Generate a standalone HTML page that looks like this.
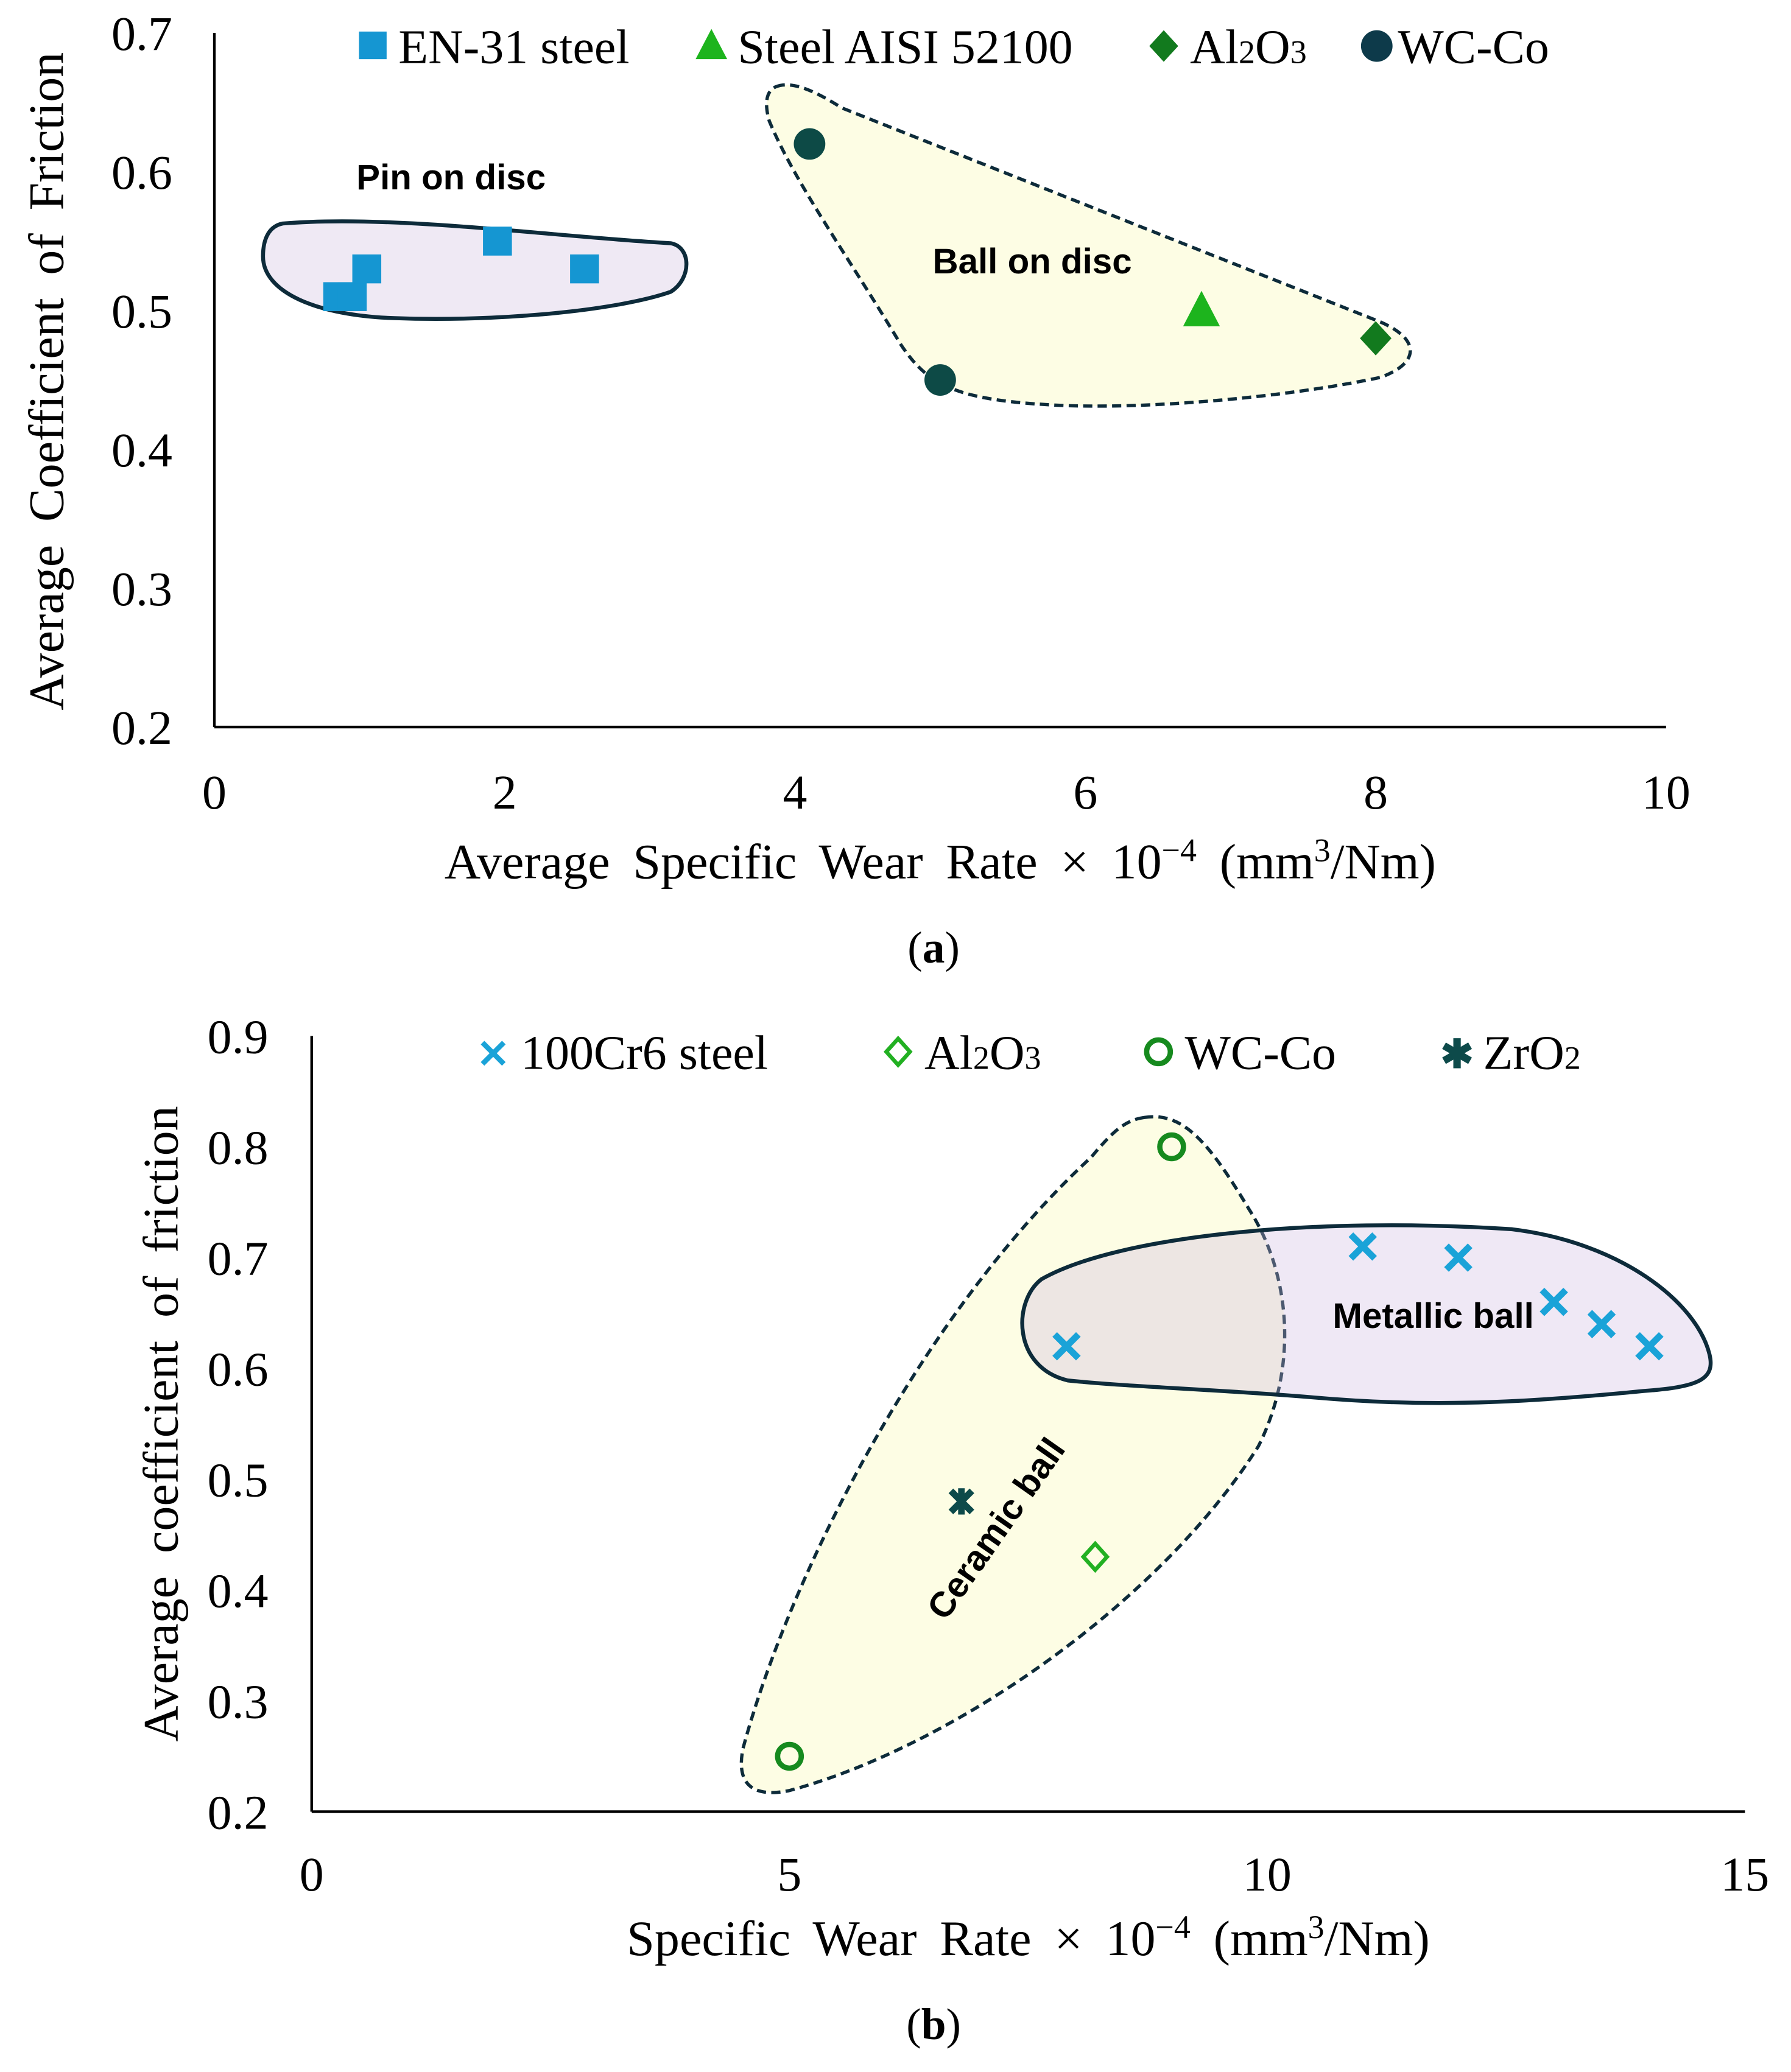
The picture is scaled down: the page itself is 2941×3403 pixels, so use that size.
<!DOCTYPE html>
<html><head><meta charset="utf-8"><style>
html,body{margin:0;padding:0;background:#fff;}
svg{display:block;}
text{font-family:"Liberation Serif",serif;}
.lbl{font-family:"Liberation Sans",sans-serif;font-weight:bold;}
</style></head><body>
<svg id="fig" width="2941" height="3403" viewBox="0 0 1362 1576" xmlns="http://www.w3.org/2000/svg">
<g id="chartA">
 <path d="M 215,170 C 300,163 420,180 510,185 C 526,188 526,212 510,222 C 470,236 380,245 300,242 C 240,240 200,222 200,195 C 200,181 205,172 215,170 Z" fill="#efe9f4" stroke="#0d2b3a" stroke-width="3"/>
 <path d="M 590,66 C 600,62 615,66 640,82 L 1050,245 C 1080,258 1080,276 1050,287 C 980,302 870,312 800,308 C 725,304 705,292 685,262 C 645,195 605,140 585,92 C 581,78 583,69 590,66 Z" fill="#fdfde4" stroke="#0d2b3a" stroke-width="2.5" stroke-dasharray="7,4"/>
 <text class="lbl" x="343" y="144" font-size="27" text-anchor="middle">Pin on disc</text>
 <text class="lbl" x="785" y="208" font-size="27" text-anchor="middle">Ball on disc</text>
 <g id="axesA"></g><g id="marksA"></g>
 <g font-size="37">
  <rect x="273" y="24" width="21" height="21" fill="#1596d2"/>
  <text x="303" y="48">EN-31 steel</text>
  <polygon points="541,22 553,45 529,45" fill="#1db41d"/>
  <text x="561" y="48">Steel AISI 52100</text>
  <polygon points="885,23 896,35 885,47 874,35" fill="#127a1e"/>
  <text x="905" y="48">Al<tspan font-size="25">2</tspan>O<tspan font-size="25">3</tspan></text>
  <circle cx="1047" cy="35" r="12" fill="#0d3a4a"/>
  <text x="1063" y="48">WC-Co</text>
 </g>
 <text x="715" y="668" font-size="38" text-anchor="middle" word-spacing="8">Average Specific Wear Rate × 10<tspan font-size="25" dy="-13">−4</tspan><tspan dy="13"> (mm</tspan><tspan font-size="25" dy="-13">3</tspan><tspan dy="13">/Nm)</tspan></text>
 <text transform="translate(48,290) rotate(-90)" font-size="38" text-anchor="middle" word-spacing="8">Average Coefficient of Friction</text>
 <text x="710" y="732" font-size="34" text-anchor="middle">(<tspan font-weight="bold">a</tspan>)</text>
</g>
<g id="chartB">
 <path d="M 870,850 C 900,845 920,870 950,920 C 982,970 987,1040 957,1100 C 880,1222 720,1330 600,1362 C 570,1368 560,1355 565,1330 C 600,1200 700,1000 830,880 C 845,862 855,852 870,850 Z" fill="#fdfde4" stroke="#0d2b3a" stroke-width="2.5" stroke-dasharray="7,4"/>
 <path d="M 792,973 C 850,940 1000,925 1150,935 C 1232,945 1290,990 1300,1030 C 1305,1050 1290,1055 1250,1058 C 1150,1068 1080,1070 1000,1063 C 930,1057 860,1055 812,1050 C 770,1040 770,990 792,973 Z" fill="rgb(205,185,225)" fill-opacity="0.33" stroke="#0d2b3a" stroke-width="3"/>
 <text class="lbl" x="1090" y="1010" font-size="27" text-anchor="middle">Metallic ball</text>
 <text class="lbl" transform="translate(765,1168) rotate(-55)" font-size="27" text-anchor="middle">Ceramic ball</text>
 <g id="axesB"></g><g id="marksB"></g>
 <g font-size="37">
  <text x="375" y="812" font-size="30" fill="#1aa3d8" font-family="Liberation Sans" font-weight="bold" text-anchor="middle">✕</text>
  <text x="396" y="813">100Cr6 steel</text>
  <polygon points="683,790 692,800 683,810 674,800" fill="none" stroke="#22b022" stroke-width="3"/>
  <text x="703" y="813">Al<tspan font-size="25">2</tspan>O<tspan font-size="25">3</tspan></text>
  <circle cx="881" cy="800" r="9" fill="none" stroke="#168a1e" stroke-width="4"/>
  <text x="901" y="813">WC-Co</text>
  <text x="1108" y="812" font-size="30" fill="#0d4a4a" font-family="DejaVu Sans" font-weight="bold" text-anchor="middle">✱</text>
  <text x="1128" y="813">ZrO<tspan font-size="25">2</tspan></text>
 </g>
 <text x="782" y="1487" font-size="38" text-anchor="middle" word-spacing="8">Specific Wear Rate × 10<tspan font-size="25" dy="-13">−4</tspan><tspan dy="13"> (mm</tspan><tspan font-size="25" dy="-13">3</tspan><tspan dy="13">/Nm)</tspan></text>
 <text transform="translate(135,1083) rotate(-90)" font-size="38" text-anchor="middle" word-spacing="8">Average coefficient of friction</text>
 <text x="710" y="1551" font-size="34" text-anchor="middle">(<tspan font-weight="bold">b</tspan>)</text>
</g>
</svg>
<script>
// Chart A data
const aXTicks = [0, 2, 4, 6, 8, 10];
const aYTicks = [0.2, 0.3, 0.4, 0.5, 0.6, 0.7];
const aEn31X = [0.85, 0.95, 1.05, 1.95, 2.55];
const aEn31Y = [0.51, 0.51, 0.53, 0.55, 0.53];
const aAisiX = [6.8];
const aAisiY = [0.50];
const aAl2o3X = [8.0];
const aAl2o3Y = [0.48];
const aWccoX = [4.1, 5.0];
const aWccoY = [0.62, 0.45];
// Chart B data
const bXTicks = [0, 5, 10, 15];
const bYTicks = [0.2, 0.3, 0.4, 0.5, 0.6, 0.7, 0.8, 0.9];
const bCrX = [7.9, 11.0, 12.0, 13.0, 13.5, 14.0];
const bCrY = [0.62, 0.71, 0.70, 0.66, 0.64, 0.62];
const bAl2o3X = [8.2];
const bAl2o3Y = [0.43];
const bWccoX = [9.0, 5.0];
const bWccoY = [0.80, 0.25];
const bZrX = [6.8];
const bZrY = [0.48];

const NS = "http://www.w3.org/2000/svg";
function mk(tag, attrs, parent){const e=document.createElementNS(NS,tag);for(const k in attrs)e.setAttribute(k,attrs[k]);parent.appendChild(e);return e;}

const ax = v => 163 + (v-0)/(10-0)*(1267-163);
const ay = v => 553 - (v-0.2)/(0.7-0.2)*(553-25);
const bx = v => 237 + (v-0)/(15-0)*(1327-237);
const by = v => 1378 - (v-0.2)/(0.9-0.2)*(1378-788);

function axes(gid, xs, ys, xf, yf, x0, x1, y0, y1, xlabY, ylabX, dec){
  const g=document.getElementById(gid);
  const yl=mk('line',{x1:xf(x0),y1:yf(y0),x2:xf(x0),y2:yf(y1),stroke:'#000','stroke-width':2},g);
  
  
  const xl=mk('line',{x1:xf(x0),y1:yf(y0),x2:xf(x1),y2:yf(y0),stroke:'#000','stroke-width':2},g);
  
  
  xs.forEach(v=>{const t=mk('text',{x:xf(v),y:xlabY,'font-size':37,'text-anchor':'middle'},g);t.textContent=String(v);
    
    });
  ys.forEach(v=>{const t=mk('text',{x:ylabX,y:yf(v)+13,'font-size':37,'text-anchor':'end'},g);t.textContent=v.toFixed(dec);
    
    });
}
axes('axesA',aXTicks,aYTicks,ax,ay,0,10,0.2,0.7,615,131,1);
axes('axesB',bXTicks,bYTicks,bx,by,0,15,0.2,0.9,1438,204,1);

const gA=document.getElementById('marksA');
aEn31X.forEach((x,i)=>{const e=mk('rect',{x:ax(x)-11,y:ay(aEn31Y[i])-11,width:22,height:22,fill:'#1596d2'},gA);
  
  });
aAisiX.forEach((x,i)=>{const cx=ax(x),cy=ay(aAisiY[i]);const e=mk('polygon',{points:`${cx},${cy-15} ${cx+14},${cy+12} ${cx-14},${cy+12}`,fill:'#1db41d'},gA);
  
  });
aAl2o3X.forEach((x,i)=>{const cx=ax(x),cy=ay(aAl2o3Y[i]);const e=mk('polygon',{points:`${cx},${cy-13} ${cx+12},${cy} ${cx},${cy+13} ${cx-12},${cy}`,fill:'#127a1e'},gA);
  
  });
aWccoX.forEach((x,i)=>{const e=mk('circle',{cx:ax(x),cy:ay(aWccoY[i]),r:12,fill:'#0d4a46'},gA);
  
  });

const gB=document.getElementById('marksB');
bCrX.forEach((x,i)=>{const cx=bx(x),cy=by(bCrY[i]);const e=mk('path',{d:`M${cx-9},${cy-9}L${cx+9},${cy+9}M${cx+9},${cy-9}L${cx-9},${cy+9}`,stroke:'#1aa3d8','stroke-width':5},gB);
  
  });
bAl2o3X.forEach((x,i)=>{const cx=bx(x),cy=by(bAl2o3Y[i]);const e=mk('polygon',{points:`${cx},${cy-10} ${cx+9},${cy} ${cx},${cy+10} ${cx-9},${cy}`,fill:'none',stroke:'#22b022','stroke-width':3},gB);
  
  });
bWccoX.forEach((x,i)=>{const e=mk('circle',{cx:bx(x),cy:by(bWccoY[i]),r:9,fill:'none',stroke:'#168a1e','stroke-width':4},gB);
  
  });
bZrX.forEach((x,i)=>{const cx=bx(x),cy=by(bZrY[i]);const e=mk('path',{d:`M${cx-8},${cy-8}L${cx+8},${cy+8}M${cx+8},${cy-8}L${cx-8},${cy+8}M${cx},${cy-10}L${cx},${cy+10}`,stroke:'#0d4a4a','stroke-width':5},gB);
  
  });
</script>
</body></html>
